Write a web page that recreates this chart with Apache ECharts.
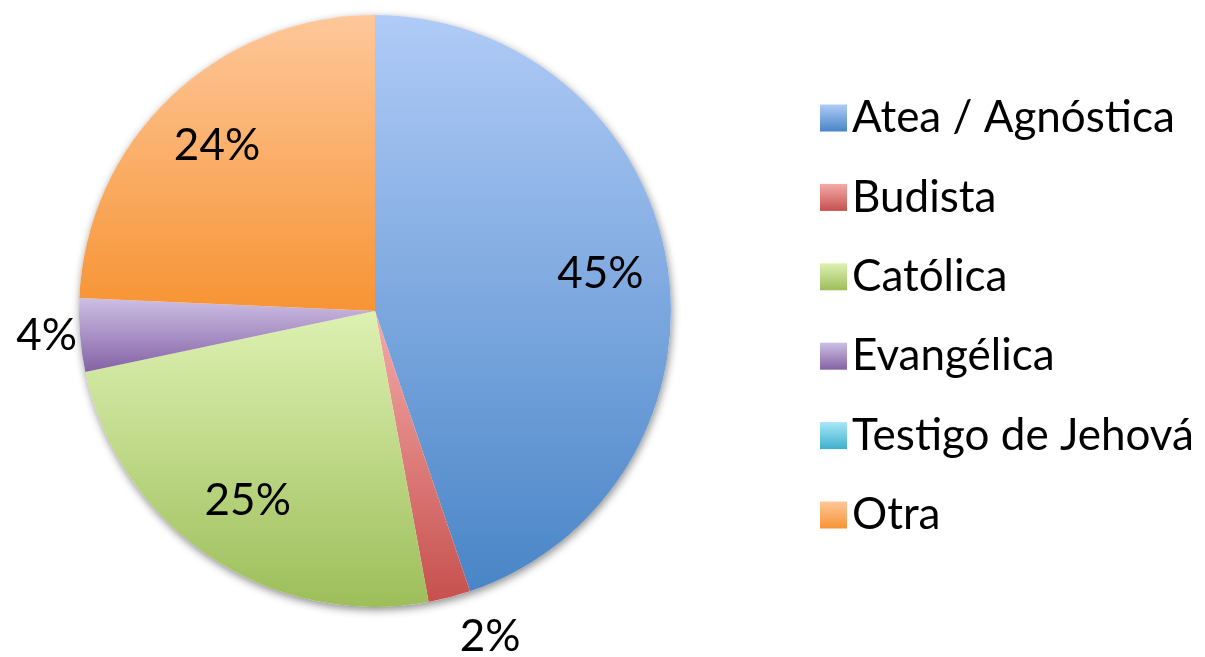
<!DOCTYPE html>
<html>
<head>
<meta charset="utf-8">
<script src="https://cdn.jsdelivr.net/npm/echarts@6/dist/echarts.min.js"></script>
<style>
html,body{margin:0;padding:0;background:#fff;}
#chart{width:1205px;height:657px;}
</style>
</head>
<body>
<div id="chart"></div>
<script>
// Data (percent of respondents)
const categories = ['Atea / Agnóstica', 'Budista', 'Católica', 'Evangélica', 'Testigo de Jehová', 'Otra'];
const values = [44.8, 2.3, 24.6, 4.0, 0, 24.3];

// Styling (gradient top -> bottom per slice)
const topColors = ['#b0cbf7', '#f4aba9', '#ddf1b2', '#cdbfe4', '#a8e7f8', '#fec79a'];
const bottomColors = ['#4985c7', '#c6504d', '#9dbe5a', '#8462a5', '#3fb0cb', '#f79434'];
const labelMode = ['inside', 'outside', 'inside', 'outside', 'none', 'inside'];
const outsideLen = [0, 41, 0, 3, 0, 0];

const FONT = 'Lato';
const FS = 44;
const CX = 375, CY = 311, R = 296;

function grad(i) {
  return new echarts.graphic.LinearGradient(0, 0, 0, 1, [
    { offset: 0, color: topColors[i] },
    { offset: 1, color: bottomColors[i] }
  ]);
}
const pct = p => Math.round(p.value) + '%';

const mainData = categories.map((name, i) => ({
  name: name,
  value: values[i],
  itemStyle: { color: grad(i) },
  label: labelMode[i] === 'outside'
    ? { show: true, position: 'outside', formatter: pct }
    : { show: false },
  labelLine: { show: false, length: outsideLen[i], length2: 0 }
}));

const overlayData = categories.map((name, i) => ({
  name: name,
  value: values[i],
  label: { show: labelMode[i] === 'inside' }
}));

const chart = echarts.init(document.getElementById('chart'), null, { renderer: 'canvas' });
chart.setOption({
  backgroundColor: '#ffffff',
  animation: false,
  legend: {
    data: categories,
    orient: 'vertical',
    left: 815,
    top: 91,
    itemWidth: 27,
    itemHeight: 27,
    itemGap: 35.4,
    itemTextGap: 14,
    icon: 'rect',
    selectedMode: false,
    textStyle: { fontFamily: FONT, fontSize: FS, color: '#000' }
  },
  series: [
    {
      type: 'pie',
      silent: true,
      center: [CX, CY],
      radius: [0, R],
      z: 1,
      data: [{ value: 1, name: '__shadow' }],
      itemStyle: { color: '#ffffff', shadowBlur: 9, shadowOffsetY: 3, shadowOffsetX: 1, shadowColor: 'rgba(0,0,0,0.45)' },
      label: { show: false },
      labelLine: { show: false }
    },
    {
      type: 'pie',
      center: [CX, CY],
      radius: [0, R],
      startAngle: 90,
      clockwise: true,
      avoidLabelOverlap: false,
      z: 2,
      data: mainData,
      label: { fontFamily: FONT, fontSize: FS, color: '#000', distanceToLabelLine: 0 },
      emphasis: { disabled: true }
    },
    {
      type: 'pie',
      silent: true,
      center: [CX, CY],
      radius: [155, R],
      startAngle: 90,
      clockwise: true,
      avoidLabelOverlap: false,
      z: 3,
      data: overlayData,
      itemStyle: { color: 'rgba(0,0,0,0)' },
      label: { position: 'inside', formatter: pct, fontFamily: FONT, fontSize: FS, color: '#000' },
      labelLine: { show: false },
      emphasis: { disabled: true }
    }
  ]
});
</script>
</body>
</html>
